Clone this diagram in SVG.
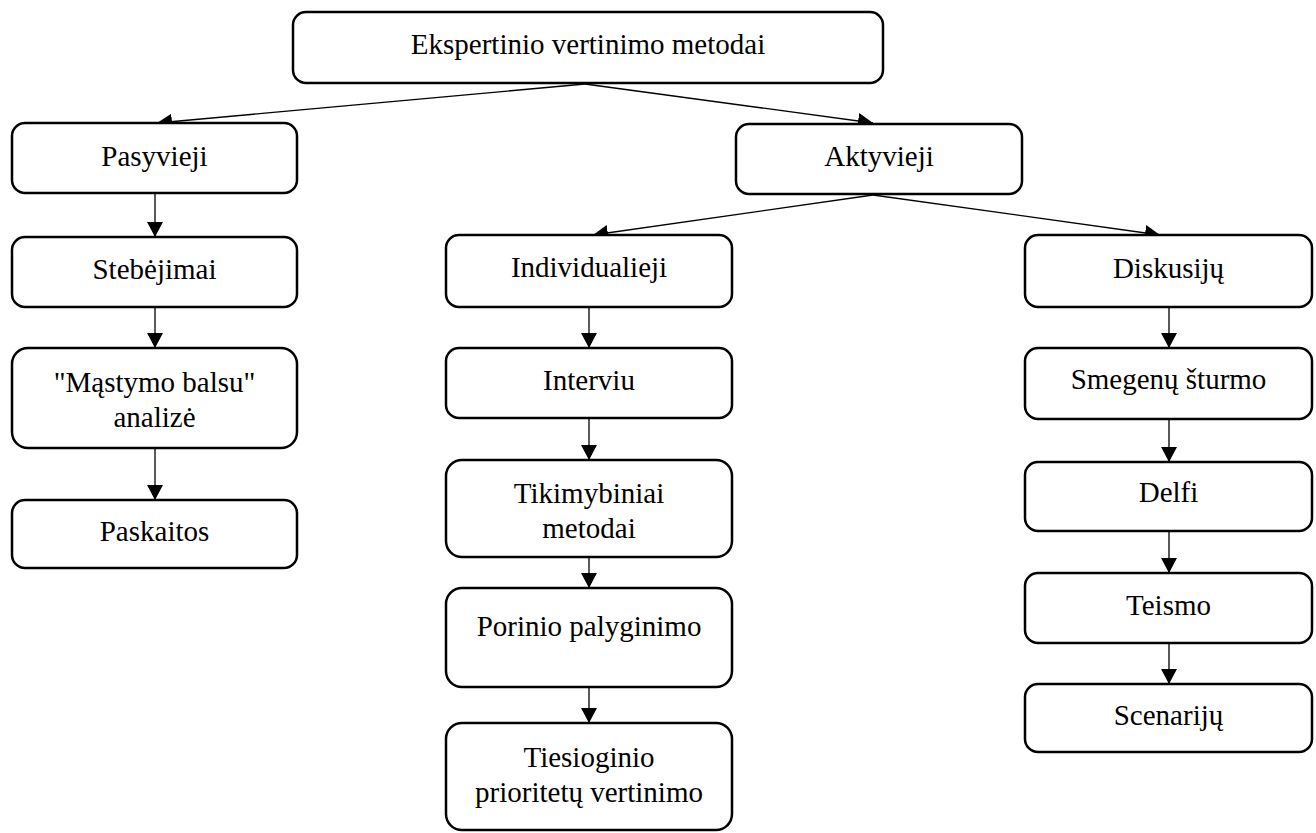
<svg xmlns="http://www.w3.org/2000/svg" width="1316" height="833" viewBox="0 0 1316 833">
  <style>
    .box { fill: #ffffff; stroke: #000000; stroke-width: 2.5; }
    .lbl { font-family: "Liberation Serif", "Times New Roman", serif; font-size: 29px; fill: #000000; text-anchor: middle; }
    .edge { stroke: #000000; stroke-width: 1.3; fill: none; marker-end: url(#arrow); }
  </style>
  <defs>
    <marker id="arrow" markerUnits="userSpaceOnUse" markerWidth="18" markerHeight="18" viewBox="0 0 18 18" refX="15" refY="8" orient="auto">
      <path d="M0,0 L15,8 L0,16 Z" fill="#000000"/>
    </marker>
  </defs>

  <rect width="1316" height="833" fill="#ffffff"/>

  <!-- connectors -->
  <g id="connectors">
    <line class="edge" x1="585" y1="84" x2="157" y2="123"/>
    <line class="edge" x1="585" y1="84" x2="873" y2="123"/>
    <line class="edge" x1="873" y1="195" x2="593" y2="235"/>
    <line class="edge" x1="873" y1="195" x2="1160" y2="235"/>

    <line class="edge" x1="155" y1="194" x2="155" y2="237"/>
    <line class="edge" x1="155" y1="308" x2="155" y2="348"/>
    <line class="edge" x1="155" y1="449" x2="155" y2="500"/>

    <line class="edge" x1="589" y1="308" x2="589" y2="348"/>
    <line class="edge" x1="589" y1="419" x2="589" y2="460"/>
    <line class="edge" x1="589" y1="558" x2="589" y2="588"/>
    <line class="edge" x1="589" y1="688" x2="589" y2="723"/>

    <line class="edge" x1="1169" y1="308" x2="1169" y2="348"/>
    <line class="edge" x1="1169" y1="420" x2="1169" y2="462"/>
    <line class="edge" x1="1169" y1="532" x2="1169" y2="573"/>
    <line class="edge" x1="1169" y1="644" x2="1169" y2="684"/>
  </g>

  <!-- root -->
  <g id="n-root">
    <rect class="box" x="293" y="12" width="590" height="71" rx="13"/>
    <text class="lbl" x="588" y="54">Ekspertinio vertinimo metodai</text>
  </g>

  <!-- left branch -->
  <g id="n-pasyvieji">
    <rect class="box" x="12" y="123" width="285" height="70" rx="13"/>
    <text class="lbl" x="154.5" y="166">Pasyvieji</text>
  </g>
  <g id="n-stebejimai">
    <rect class="box" x="12" y="237" width="285" height="70" rx="13"/>
    <text class="lbl" x="154.5" y="279">Stebėjimai</text>
  </g>
  <g id="n-mastymo">
    <rect class="box" x="12" y="348" width="285" height="100" rx="16"/>
    <text class="lbl" x="154.5" y="392">"Mąstymo balsu"</text>
    <text class="lbl" x="154.5" y="427">analizė</text>
  </g>
  <g id="n-paskaitos">
    <rect class="box" x="12" y="500" width="285" height="68" rx="13"/>
    <text class="lbl" x="154.5" y="541">Paskaitos</text>
  </g>

  <!-- active -->
  <g id="n-aktyvieji">
    <rect class="box" x="736" y="124" width="286" height="70" rx="13"/>
    <text class="lbl" x="879" y="166">Aktyvieji</text>
  </g>

  <!-- middle branch -->
  <g id="n-individualieji">
    <rect class="box" x="446" y="235" width="286" height="72" rx="13"/>
    <text class="lbl" x="589" y="277">Individualieji</text>
  </g>
  <g id="n-interviu">
    <rect class="box" x="446" y="348" width="286" height="70" rx="13"/>
    <text class="lbl" x="589" y="390">Interviu</text>
  </g>
  <g id="n-tikimybiniai">
    <rect class="box" x="446" y="460" width="286" height="97" rx="16"/>
    <text class="lbl" x="589" y="503">Tikimybiniai</text>
    <text class="lbl" x="589" y="538">metodai</text>
  </g>
  <g id="n-porinio">
    <rect class="box" x="446" y="588" width="286" height="99" rx="16"/>
    <text class="lbl" x="589" y="636">Porinio palyginimo</text>
  </g>
  <g id="n-tiesioginio">
    <rect class="box" x="446" y="723" width="286" height="107" rx="16"/>
    <text class="lbl" x="589" y="767">Tiesioginio</text>
    <text class="lbl" x="589" y="802">prioritetų vertinimo</text>
  </g>

  <!-- right branch -->
  <g id="n-diskusiju">
    <rect class="box" x="1025" y="235" width="287" height="72" rx="13"/>
    <text class="lbl" x="1168.5" y="278">Diskusijų</text>
  </g>
  <g id="n-smegenu">
    <rect class="box" x="1025" y="348" width="287" height="71" rx="13"/>
    <text class="lbl" x="1168.5" y="389">Smegenų šturmo</text>
  </g>
  <g id="n-delfi">
    <rect class="box" x="1025" y="462" width="287" height="69" rx="13"/>
    <text class="lbl" x="1168.5" y="502">Delfi</text>
  </g>
  <g id="n-teismo">
    <rect class="box" x="1025" y="573" width="287" height="70" rx="13"/>
    <text class="lbl" x="1168.5" y="615">Teismo</text>
  </g>
  <g id="n-scenariju">
    <rect class="box" x="1025" y="684" width="287" height="68" rx="13"/>
    <text class="lbl" x="1168.5" y="725">Scenarijų</text>
  </g>
</svg>
